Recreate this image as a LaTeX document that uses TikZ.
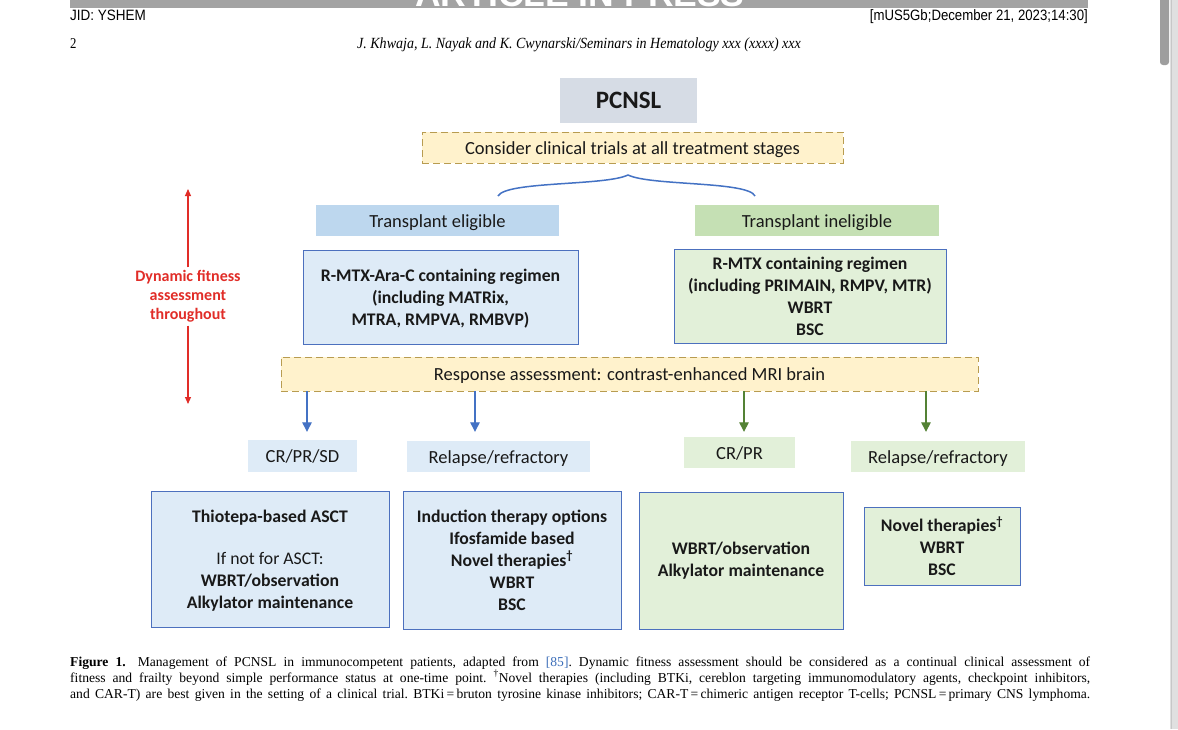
\documentclass[tikz,border=0pt]{standalone}
\usepackage{fontspec}
\usepackage{graphicx}
\setmainfont{Carlito}
\newfontfamily\capfont{Liberation Serif}
\newfontfamily\hdfont{Liberation Sans}
\usetikzlibrary{arrows.meta,calc}
\definecolor{pcnslc}{RGB}{214,220,229}
\definecolor{yellowc}{RGB}{255,242,204}
\definecolor{dashc}{RGB}{184,156,80}
\definecolor{bluehead}{RGB}{189,215,238}
\definecolor{greenhead}{RGB}{197,224,180}
\definecolor{bluefill}{RGB}{222,235,247}
\definecolor{greenfill}{RGB}{226,240,217}
\definecolor{boxline}{RGB}{76,112,190}
\definecolor{bluearr}{RGB}{68,114,196}
\definecolor{greenarr}{RGB}{84,130,53}
\definecolor{redc}{RGB}{225,45,40}
\definecolor{txtc}{RGB}{25,25,25}
\definecolor{linkc}{RGB}{60,110,185}
\begin{document}
\begin{tikzpicture}[x=1pt,y=-1pt,
  every node/.style={text=txtc},
  reg/.style={font=\fontsize{18.5}{22}\selectfont, text height=14.5pt, text depth=1.5pt},
  bld/.style={font=\fontsize{17.7}{22}\selectfont\bfseries, align=center},
  dbox/.style={fill=yellowc, draw=dashc, line width=0.9pt, dash pattern=on 7pt off 4pt},
  sbox/.style={draw=boxline, line width=0.9pt},
  barr/.style={draw=bluearr, line width=1.3pt, -{Triangle[width=9.5pt,length=9.5pt]}},
  garr/.style={draw=greenarr, line width=1.3pt, -{Triangle[width=9.5pt,length=9.5pt]}},
  rarr/.style={draw=redc, line width=1.1pt, -{Triangle[width=6pt,length=7pt]}},
  hd/.style={font=\hdfont\fontsize{15}{18}\selectfont, text=black},
  capl/.style={anchor=base west, inner sep=0pt, font=\capfont\fontsize{13.6}{16}\selectfont\frenchspacing, text=black}
]
\useasboundingbox (0,0) rectangle (1178,729);
\fill[white] (0,0) rectangle (1178,729);
% page edge and scrollbar
\fill[black!12] (1170,0) rectangle (1178,729);
\draw[black!22, line width=1pt] (1171,0) -- (1171,729);
\fill[black!38, rounded corners=3pt] (1160,-5) rectangle (1169,65);
% banner
\fill[black!36] (70,0) rectangle (1088,8);
\begin{scope}
\clip (70,0) rectangle (1088,8);
\node[anchor=base, text=white, font=\hdfont\bfseries\fontsize{35.5}{40}\selectfont, inner sep=0pt] (banner) at (580,6) {ARTICLE IN PRESS};
\end{scope}
% header
\node[hd, anchor=base west, inner sep=0pt] (jid) at (70,20) {\scalebox{0.9}[1]{JID: YSHEM}};
\node[hd, anchor=base east, inner sep=0pt] (stamp) at (1088,20) {\scalebox{0.88}[1]{[mUS5Gb;December 21, 2023;14:30]}};
\node[anchor=base west, inner sep=0pt, font=\capfont\fontsize{15}{18}\selectfont, text=black] (pg) at (70,48) {\scalebox{0.85}[1]{2}};
\node[anchor=base, inner sep=0pt, font=\capfont\itshape\fontsize{15.5}{18}\selectfont, text=black] (runhead) at (579,48) {\scalebox{0.905}[1]{J. Khwaja, L. Nayak and K. Cwynarski/Seminars in Hematology xxx (xxxx) xxx}};

% diagram
\node[fill=pcnslc, minimum width=137, minimum height=45, font=\fontsize{25}{30}\selectfont\bfseries] (pcnsl) at (628.5,100.5) {PCNSL};
\node[dbox, reg, minimum width=421, minimum height=31] (consider) at (632.5,147.5) {Consider clinical trials at all treatment stages};
\coordinate (brL) at (498,196);
\coordinate (brM) at (628,175);
\coordinate (brR) at (755,196);
\draw[bluearr, line width=1.5pt] (brL) .. controls (506,181) and (605,186) .. (brM) .. controls (651,186) and (748,181) .. (brR);

\node[fill=bluehead, reg, minimum width=243, minimum height=31] (te) at (437.5,220.5) {Transplant eligible};
\node[fill=greenhead, reg, minimum width=244, minimum height=31] (ti) at (817,220.5) {Transplant ineligible};

\node[sbox, fill=bluefill, bld, minimum width=275, minimum height=94] (ra) at (440.5,297) {\rule{0pt}{15pt}R-MTX-Ara-C containing regimen\\(including MATRix,\\MTRA, RMPVA, RMBVP)};
\node[sbox, fill=greenfill, bld, minimum width=272, minimum height=94] (rb) at (810,296) {R-MTX containing regimen\\(including PRIMAIN, RMPV, MTR)\\WBRT\\BSC};

\node[text=redc, font=\fontsize{16}{19}\selectfont\bfseries, align=center, inner sep=3pt] (fit) at (188,296.5) {Dynamic fitness\\assessment\\throughout};
\coordinate (ftop) at (188,189);
\coordinate (fbot) at (188,404);
\draw[rarr] (fit.north) -- (ftop);
\draw[rarr] (fit.south) -- (fbot);

\node[dbox, reg, minimum width=697, minimum height=34] (resp) at (629.5,374) {Response assessment: contrast-enhanced MRI brain};

\node[fill=bluefill, reg, minimum width=109, minimum height=32] (cra) at (302.5,456) {CR/PR/SD};
\node[fill=bluefill, reg, minimum width=183, minimum height=31] (rra) at (498.5,456.5) {Relapse/refractory};
\node[fill=greenfill, reg, minimum width=111, minimum height=31] (crb) at (739.5,452.5) {CR/PR};
\node[fill=greenfill, reg, minimum width=174, minimum height=31] (rrb) at (938,456.5) {Relapse/refractory};

\coordinate (a1) at ([xshift=4.5pt,yshift=8pt]cra.north);
\coordinate (a2) at ([xshift=-23.5pt,yshift=9pt]rra.north);
\coordinate (a3) at ([xshift=4.5pt,yshift=5pt]crb.north);
\coordinate (a4) at ([xshift=-12pt,yshift=9pt]rrb.north);
\draw[barr] (resp.south -| a1) -- (a1);
\draw[barr] (resp.south -| a2) -- (a2);
\draw[garr] (resp.south -| a3) -- (a3);
\draw[garr] (resp.south -| a4) -- (a4);

\node[sbox, fill=bluefill, bld, minimum width=238, minimum height=136] (b1) at (270,559) {\rule{0pt}{16pt}Thiotepa-based ASCT\\[20pt]{\mdseries If not for ASCT:}\\WBRT/observation\\Alkylator maintenance};
\node[sbox, fill=bluefill, bld, minimum width=218, minimum height=138] (b2) at (512,560) {Induction therapy options\\Ifosfamide based\\Novel therapies\textsuperscript{†}\\WBRT\\BSC};
\node[sbox, fill=greenfill, bld, minimum width=204, minimum height=137] (b3) at (741,560.5) {WBRT/observation\\Alkylator maintenance};
\node[sbox, fill=greenfill, bld, minimum width=156, minimum height=78] (b4) at (942,546) {Novel therapies\textsuperscript{†}\\WBRT\\BSC};

% caption
\node[capl] (cap1) at (70,666) {\makebox[1020pt][s]{\textbf{Figure 1.}\hspace{5pt} Management of PCNSL in immunocompetent patients, adapted from \textcolor{linkc}{[85]}. Dynamic fitness assessment should be considered as a continual clinical assessment of}};
\node[capl] (cap2) at (70,682) {\makebox[1020pt][s]{fitness and frailty beyond simple performance status at one-time point. \textsuperscript{†}Novel therapies (including BTKi, cereblon targeting immunomodulatory agents, checkpoint inhibitors,}};
\node[capl] (cap3) at (70,698) {\makebox[1020pt][s]{and CAR-T) are best given in the setting of a clinical trial. BTKi\,=\,bruton tyrosine kinase inhibitors; CAR-T\,=\,chimeric antigen receptor T-cells; PCNSL\,=\,primary CNS lymphoma.}};
\end{tikzpicture}
\end{document}
